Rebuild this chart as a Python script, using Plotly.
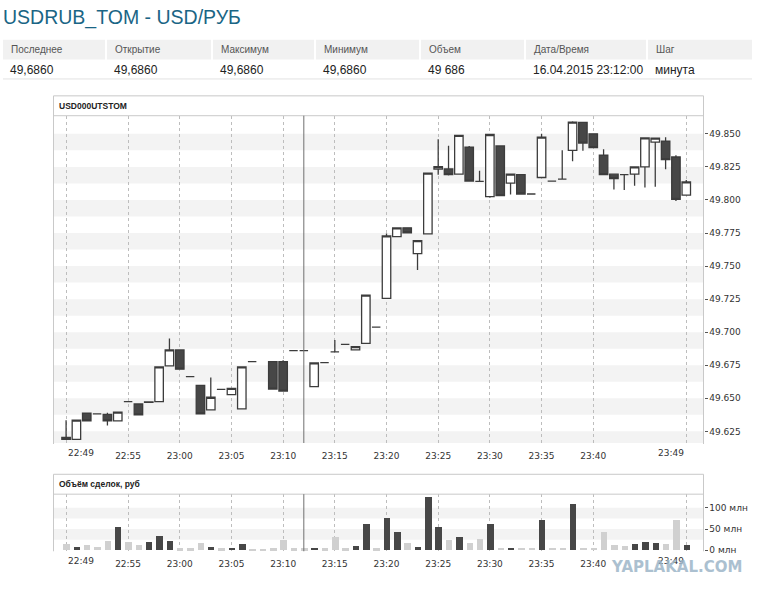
import pandas as pd
import plotly.graph_objects as go

# ---------------- data ----------------
minutes = [t.strftime('%Y-%m-%d %H:%M') for t in
           pd.date_range('2015-04-16 22:49', '2015-04-16 23:49', freq='1min')]

opens = [49.6205, 49.6190, 49.6387, 49.6382, 49.6378, 49.6330, 49.6475, 49.6457, 49.6470, 49.6475,
         49.6746, 49.6866, 49.6664, 49.6598, 49.6412, 49.6568, 49.6528, 49.6420, 49.6778, None,
         49.6778, 49.6778, 49.6860, 49.6860, 49.6588, 49.6770, 49.6851, 49.6908, 49.6866, 49.6915,
         49.7038, 49.7256, 49.7722, 49.7789, 49.7594, 49.7744, 49.8233, 49.8235, 49.8195, 49.8400,
         49.8140, 49.8025, 49.8408, 49.8128, 49.8192, 49.8045, 49.8170, 49.8143, 49.8158, 49.8375,
         49.8586, 49.8500, 49.8338, 49.8195, 49.8192, 49.8195, 49.8250, 49.8438, 49.8445, 49.8325,
         49.8037]
highs = [49.6335, 49.6335, 49.6387, 49.6382, 49.6390, 49.6395, 49.6475, 49.6457, 49.6473, 49.6738,
         49.6953, 49.6866, 49.6664, 49.6598, 49.6658, 49.6568, 49.6575, 49.6738, 49.6778, None,
         49.6778, 49.6788, 49.6860, 49.6860, 49.6768, 49.6770, 49.6941, 49.6908, 49.6891, 49.7281,
         49.7038, 49.7747, 49.7789, 49.7789, 49.7692, 49.8203, 49.8460, 49.8410, 49.8488, 49.8408,
         49.8220, 49.8495, 49.8408, 49.8195, 49.8192, 49.8045, 49.8500, 49.8143, 49.8375, 49.8595,
         49.8590, 49.8500, 49.8383, 49.8195, 49.8192, 49.8250, 49.8475, 49.8468, 49.8475, 49.8338,
         49.8150]
lows = [49.6190, 49.6190, 49.6330, 49.6382, 49.6295, 49.6330, 49.6475, 49.6375, 49.6470, 49.6475,
        49.6746, 49.6720, 49.6664, 49.6382, 49.6412, 49.6568, 49.6528, 49.6415, 49.6778, None,
        49.6570, 49.6555, 49.6860, 49.6860, 49.6588, 49.6770, 49.6851, 49.6908, 49.6866, 49.6915,
        49.7038, 49.7256, 49.7722, 49.7752, 49.7471, 49.7744, 49.8190, 49.8185, 49.8195, 49.8143,
        49.8140, 49.8017, 49.8032, 49.8042, 49.8045, 49.8045, 49.8170, 49.8143, 49.8158, 49.8293,
        49.8373, 49.8395, 49.8192, 49.8080, 49.8075, 49.8107, 49.8094, 49.8100, 49.8233, 49.7992,
        49.8037]
closes = [49.6190, 49.6335, 49.6330, 49.6382, 49.6330, 49.6395, 49.6475, 49.6375, 49.6473, 49.6738,
          49.6866, 49.6720, 49.6664, 49.6382, 49.6508, 49.6568, 49.6575, 49.6738, 49.6778, None,
          49.6570, 49.6555, 49.6860, 49.6860, 49.6768, 49.6770, 49.6851, 49.6908, 49.6891, 49.7281,
          49.7038, 49.7729, 49.7789, 49.7752, 49.7692, 49.8203, 49.8252, 49.8192, 49.8488, 49.8143,
          49.8140, 49.8495, 49.8032, 49.8195, 49.8045, 49.8045, 49.8475, 49.8143, 49.8158, 49.8588,
          49.8430, 49.8395, 49.8192, 49.8162, 49.8192, 49.8250, 49.8470, 49.8468, 49.8305, 49.8004,
          49.8137]
volumes_mln = [14.7, 7.0, 11.6, 7.0, 20.9, 53.5, 19.4, 11.6, 18.6, 32.6,
               20.9, 3.9, 3.9, 16.3, 7.0, 3.9, 4.7, 14.0, 1.6, 1.2,
               3.9, 23.3, 3.9, 3.9, 4.7, 3.9, 30.2, 3.9, 9.3, 61.2,
               3.9, 75.2, 41.9, 17.0, 7.0, 125.6, 53.5, 23.3, 30.2, 16.3,
               25.6, 61.2, 6.2, 6.2, 6.2, 4.7, 69.8, 4.7, 4.7, 107.7,
               6.2, 4.7, 41.9, 11.6, 9.3, 14.0, 18.6, 16.3, 14.0, 69.8,
               11.6]

tick_times = ['22:49', '22:55', '23:00', '23:05', '23:10', '23:15', '23:20',
              '23:25', '23:30', '23:35', '23:40', '23:49']
price_ticks = [49.625, 49.650, 49.675, 49.700, 49.725, 49.750, 49.775, 49.800, 49.825, 49.850]
vol_ticks = [0, 50, 100]
vol_tick_labels = ['0 млн', '50 млн', '100 млн']
cursor_time = '23:12'

header_labels = ['Последнее', 'Открытие', 'Максимум', 'Минимум', 'Объем', 'Дата/Время', 'Шаг']
header_values = ['49,6860', '49,6860', '49,6860', '49,6860', '49 686', '16.04.2015 23:12:00', 'минута']

title_text = 'USDRUB_TOM - USD/РУБ'
panel1_title = 'USD000UTSTOM'
panel2_title = 'Объём сделок, руб'

# ---------------- layout helpers ----------------
W, H = 771, 596
DAY = '2015-04-16 '
def fx(px):
    return px / W
def fy(py):
    return 1 - py / H

X_L, X_R = 53.5, 703.5
M_TOP, M_BOT = 116.5, 446.0
V_TOP, V_BOT = 497.5, 555.0
x_range = [DAY + '22:47:47', DAY + '23:50:40']

DARK = '#474747'
LIGHT = '#d0d0d0'
EDGE = '#3c3c3c'
FRAME = '#c9c9c9'
BAND = '#f3f3f3'
TXT = '#333333'
FONT = 'DejaVu Sans, Verdana, sans-serif'
SANS = 'Liberation Sans, Arial, sans-serif'

vol_colors = []
for o, c in zip(opens, closes):
    up = (o is not None and c is not None and c > o)
    vol_colors.append(DARK if up else LIGHT)

fig = go.Figure()
fig.add_trace(go.Candlestick(
    x=minutes, open=opens, high=highs, low=lows, close=closes,
    xaxis='x', yaxis='y', whiskerwidth=0,
    increasing=dict(fillcolor='#ffffff', line=dict(color=EDGE, width=1.3)),
    decreasing=dict(fillcolor=DARK, line=dict(color=EDGE, width=1.3)),
    hoverinfo='skip', showlegend=False))
fig.add_trace(go.Bar(
    x=minutes, y=volumes_mln, xaxis='x2', yaxis='y2', width=60000 * 0.62,
    marker=dict(color=vol_colors, line=dict(width=0)),
    hoverinfo='skip', showlegend=False))

tickvals = [DAY + t for t in tick_times]
ticktext = [''] + tick_times[1:-1] + ['']

xcommon = dict(type='date', range=x_range, tickvals=tickvals, ticktext=ticktext,
               showgrid=True, gridcolor='#bdbdbd', griddash='dot', gridwidth=1,
               zeroline=False, showline=False, ticks='', fixedrange=True,
               ticklabelstandoff=6,
               tickfont=dict(family=FONT, size=9, color=TXT),
               domain=[fx(X_L), fx(X_R)])

shapes = []
# alternating bands
for t in price_ticks:
    shapes.append(dict(type='rect', xref='x domain', yref='y', x0=0, x1=1,
                       y0=t - 0.0125, y1=t, fillcolor=BAND, line=dict(width=0), layer='below'))
for lo, hi in [(25, 50), (75, 100)]:
    shapes.append(dict(type='rect', xref='x2 domain', yref='y2', x0=0, x1=1,
                       y0=lo, y1=hi, fillcolor=BAND, line=dict(width=0), layer='below'))
# frames
def line(x0, y0, x1, y1, color=FRAME, w=1):
    return dict(type='line', xref='paper', yref='paper', x0=fx(x0), y0=fy(y0), x1=fx(x1), y1=fy(y1),
                line=dict(color=color, width=w), layer='above')
shapes += [
    line(X_L, 96.5, X_R, 96.5), line(X_L, M_TOP, X_R, M_TOP),
    line(X_L, 96.5, X_L, M_BOT + 1), line(X_R, 96.5, X_R, M_BOT + 1),
    line(X_L, 477.5, X_R, 477.5), line(X_L, V_TOP, X_R, V_TOP),
    line(X_L, 477.5, X_L, V_BOT), line(X_R, 477.5, X_R, V_BOT),
    line(3, 79.5, 752, 79.5, color='#e2e2e2'),
]
# header cells (grey label row, separated by thin white gaps)
hx = [10, 114, 220, 323, 428, 533, 655]
cell_left = [3, 107, 213, 316, 421, 526, 648, 754]
for i in range(len(hx)):
    shapes.append(dict(type='rect', xref='paper', yref='paper', x0=fx(cell_left[i]),
                       x1=fx(cell_left[i + 1] - 2), y0=fy(60), y1=fy(40),
                       fillcolor='#f1f1f1', line=dict(width=0), layer='below'))
# cursor line
for xr, yr in [('x', 'y domain'), ('x2', 'y2 domain')]:
    shapes.append(dict(type='line', xref=xr, yref=yr, x0=DAY + cursor_time, x1=DAY + cursor_time,
                       y0=0, y1=1, line=dict(color='#6f6f6f', width=1), layer='above'))

ann = []
ann.append(dict(text=title_text, x=fx(1), y=fy(18), xref='paper', yref='paper', xanchor='left',
                yanchor='middle', showarrow=False,
                font=dict(family=SANS, size=19.5, color='#1a6585')))
for x, lab, val in zip(hx, header_labels, header_values):
    ann.append(dict(text=lab, x=fx(x - 1), y=fy(50), xref='paper', yref='paper', xanchor='left',
                    yanchor='middle', showarrow=False, font=dict(family=SANS, size=10, color='#555555')))
    ann.append(dict(text=val, x=fx(x - 2), y=fy(70), xref='paper', yref='paper', xanchor='left',
                    yanchor='middle', showarrow=False, font=dict(family=SANS, size=12, color='#222222')))
ann.append(dict(text='<b>%s</b>' % panel1_title, x=fx(57), y=fy(106.5), xref='paper', yref='paper',
                xanchor='left', yanchor='middle', showarrow=False,
                font=dict(family=SANS, size=8.5, color='#222222')))
ann.append(dict(text='<b>%s</b>' % panel2_title, x=fx(57), y=fy(487.5), xref='paper', yref='paper',
                xanchor='left', yanchor='middle', showarrow=False,
                font=dict(family=SANS, size=8.5, color='#222222')))
# edge time labels (left aligned first, right aligned last)
for ypix in [456, 565]:
    ann.append(dict(text=tick_times[0], x=tickvals[0], xref='x', y=fy(ypix), yref='paper',
                    xanchor='left', yanchor='middle', showarrow=False,
                    font=dict(family=FONT, size=9, color=TXT)))
    ann.append(dict(text=tick_times[-1], x=tickvals[-1], xref='x', y=fy(ypix), yref='paper',
                    xanchor='right', yanchor='middle', showarrow=False,
                    font=dict(family=FONT, size=9, color=TXT)))
ann.append(dict(text='<b>YAPLAKAL.COM</b>', x=fx(676), y=fy(571), xref='paper', yref='paper',
                xanchor='center', yanchor='middle', showarrow=False, opacity=0.85,
                font=dict(family=FONT, size=15, color='#9db6c8')))

fig.update_layout(
    width=W, height=H, autosize=False,
    margin=dict(l=0, r=0, t=0, b=0),
    paper_bgcolor='white', plot_bgcolor='white',
    boxgap=0.18, boxgroupgap=0,
    bargap=0,
    showlegend=False,
    xaxis=dict(xcommon, anchor='y', rangeslider=dict(visible=False)),
    xaxis2=dict(xcommon, anchor='y2'),
    yaxis=dict(domain=[fy(M_BOT), fy(M_TOP)], range=[49.6162, 49.8637], side='right', anchor='x',
               tickvals=price_ticks, ticktext=['%.3f' % v for v in price_ticks],
               ticks='outside', ticklen=3, tickcolor='#555555', showgrid=False, zeroline=False,
               showline=False, fixedrange=True, tickfont=dict(family=FONT, size=9, color=TXT)),
    yaxis2=dict(domain=[fy(V_BOT), fy(V_TOP)], range=[-2.3, 131.9], side='right', anchor='x2',
                tickvals=vol_ticks, ticktext=vol_tick_labels,
                ticks='outside', ticklen=3, tickcolor='#555555', showgrid=False, zeroline=False,
                showline=False, fixedrange=True, tickfont=dict(family=FONT, size=9, color=TXT)),
    shapes=shapes, annotations=ann,
)

fig.write_html('out.html', config={'displayModeBar': False},
               post_script="document.body.style.margin='0';")
